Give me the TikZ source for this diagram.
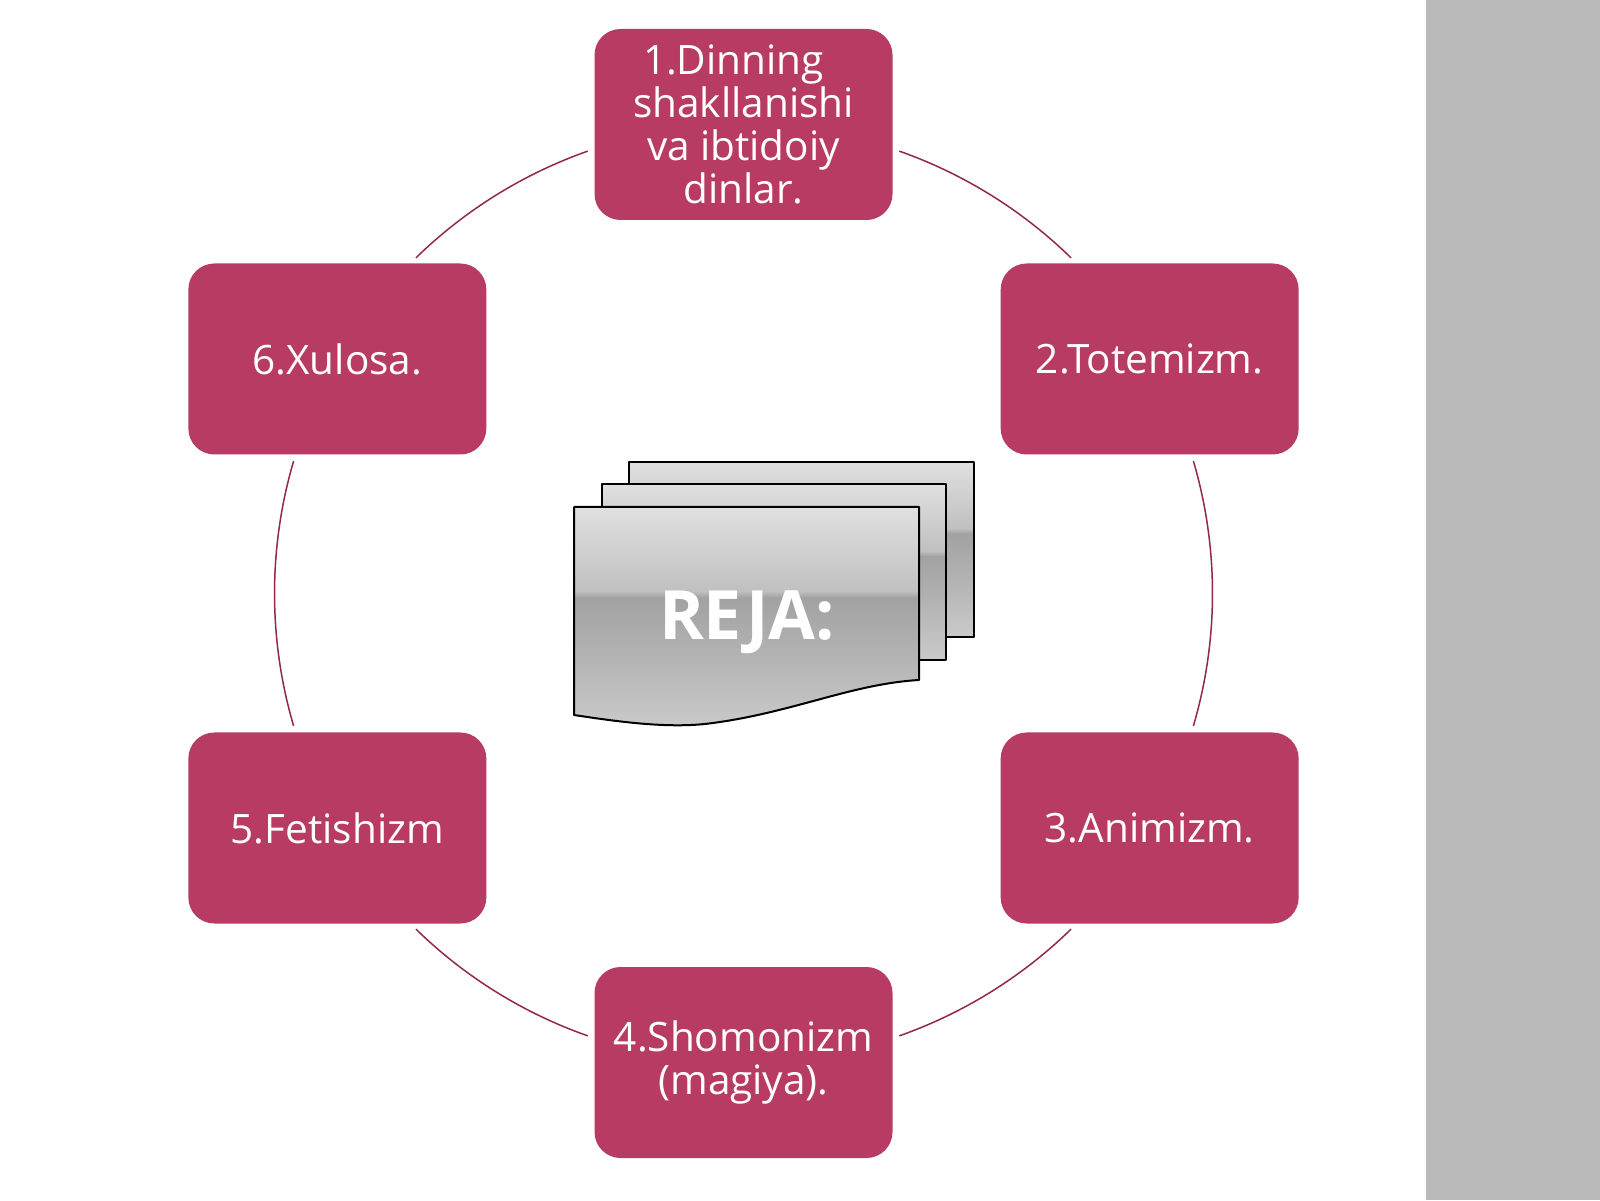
\documentclass[tikz,border=0pt]{standalone}
\usepackage{fontspec}
\setmainfont{Open Sans}
\usetikzlibrary{calc}
\definecolor{boxred}{RGB}{184,59,99}
\definecolor{ringred}{RGB}{145,42,72}
\definecolor{bandgray}{RGB}{186,186,186}
\definecolor{ga}{RGB}{202,202,202}
\definecolor{gb}{RGB}{178,178,178}
\definecolor{gc}{RGB}{162,162,162}
\definecolor{gd}{RGB}{192,192,192}
\definecolor{ge}{RGB}{204,204,204}
\definecolor{gf}{RGB}{224,224,224}
\pgfdeclareverticalshading{docshade}{100bp}{color(0bp)=(ga); color(25bp)=(ga); color(42bp)=(gb); color(54.5bp)=(gc); color(56bp)=(gd); color(63bp)=(ge); color(75bp)=(gf); color(100bp)=(gf)}
\begin{document}
\begin{tikzpicture}[x=1pt,y=1pt,
  item/.style={draw=none, fill=boxred, rounded corners=26pt, minimum width=298pt,
    minimum height=191pt, text=white, align=center, inner sep=0pt,
    font=\fontsize{40.5}{43}\selectfont},
  ring/.style={draw=ringred, line width=1.5pt},
  page/.style={draw=black, line width=2pt, line join=round, shade, shading=docshade}]
\useasboundingbox (0,0) rectangle (1600,1200);
\fill[white] (0,0) rectangle (1600,1200);
\fill[bandgray] (1426,0) rectangle (1600,1200);
\coordinate (c) at (743.5,606.5);
% ring arcs between the boxes
\draw[ring] ($(c)+(70.6:469)$) arc[start angle=70.6, end angle=45.7, radius=469];
\draw[ring] ($(c)+(16.4:469)$) arc[start angle=16.4, end angle=-16.4, radius=469];
\draw[ring] ($(c)+(-45.7:469)$) arc[start angle=-45.7, end angle=-70.6, radius=469];
\draw[ring] ($(c)+(-109.4:469)$) arc[start angle=-109.4, end angle=-134.3, radius=469];
\draw[ring] ($(c)+(-163.6:469)$) arc[start angle=-163.6, end angle=-196.4, radius=469];
\draw[ring] ($(c)+(134.3:469)$) arc[start angle=134.3, end angle=109.4, radius=469];
% boxes
\node[item] (b1) at ($(c)+(90:469)$) {1.Dinning\rule{0.5em}{0pt}\\shakllanishi\\va ibtidoiy\\dinlar.};
\node[item] (b2) at ($(c)+(30:469)$) {2.Totemizm.};
\node[item] (b3) at ($(c)+(-30:469)$) {3.Animizm.};
\node[item] (b4) at ($(c)+(-90:469)$) {4.Shomonizm\\(magiya).};
\node[item] (b5) at ($(c)+(-150:469)$) {5.Fetishizm};
\node[item] (b6) at ($(c)+(150:469)$) {6.Xulosa.};
% multi-document in the centre
\path[page] (629,738) rectangle (974,563);
\path[page] (602,716) rectangle (946,540);
\path[page] (574,693) -- (919,693) -- (919,520)
  .. controls (850,516) and (790,486) .. (705,476)
  .. controls (665,472) and (620,478) .. (574,485) -- cycle;
\node[text=white, font=\fontsize{68}{80}\bfseries\selectfont, inner sep=0pt] (doc) at (747,578) {REJA:};
\end{tikzpicture}
\end{document}
